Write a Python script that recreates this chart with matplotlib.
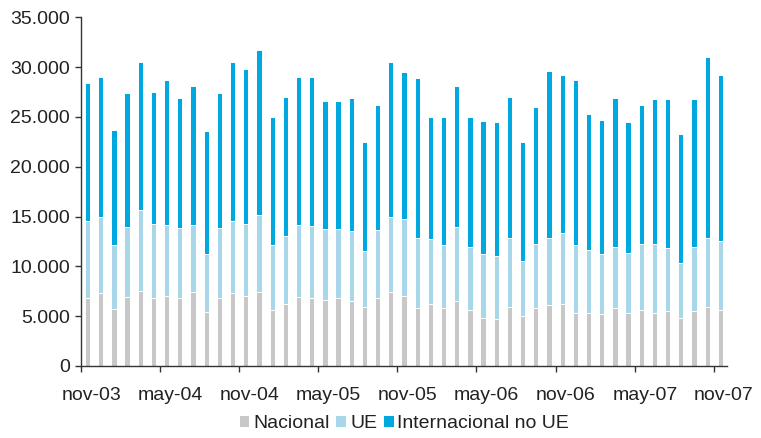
import numpy as np
import matplotlib.pyplot as plt
from matplotlib.ticker import FuncFormatter, FixedLocator

plt.rcParams['font.family'] = ['Liberation Sans', 'DejaVu Sans']

# monthly, nov-03 .. nov-07
tick_labels = ['nov-03', 'may-04', 'nov-04', 'may-05', 'nov-05',
               'may-06', 'nov-06', 'may-07', 'nov-07']

# nacional, top of UE segment, total
nacional = [6.87, 7.30, 5.76, 6.97, 7.57, 6.87, 7.00, 6.87, 7.47, 5.46,
            6.87, 7.33, 7.00, 7.47, 5.63, 6.26, 6.97, 6.87, 6.66, 6.87,
            6.56, 5.96, 6.87, 7.47, 7.00, 5.79, 6.26, 5.79, 6.56, 5.66,
            4.86, 4.76, 5.96, 5.06, 5.79, 6.10, 6.26, 5.36, 5.36, 5.19,
            5.79, 5.36, 5.66, 5.36, 5.49, 4.86, 5.49, 5.96, 5.66]
ue_top = [14.53, 15.00, 12.16, 13.97, 15.61, 14.23, 14.13, 13.83, 14.13, 11.22,
          13.83, 14.60, 14.23, 15.14, 12.16, 13.06, 14.20, 14.10, 13.80, 13.80,
          13.50, 11.55, 13.66, 15.00, 14.74, 12.89, 12.76, 12.12, 13.93, 11.99,
          11.22, 11.09, 12.89, 10.58, 12.29, 12.89, 13.36, 12.12, 11.69, 11.22,
          11.99, 11.39, 12.29, 12.29, 11.86, 10.35, 11.99, 12.89, 12.59]
total = [28.43, 29.00, 23.71, 27.36, 30.51, 27.50, 28.70, 26.89, 28.10, 23.58,
         27.36, 30.51, 29.77, 31.75, 24.95, 27.03, 29.00, 29.00, 26.62, 26.62,
         26.89, 22.50, 26.16, 30.51, 29.50, 28.87, 24.95, 24.95, 28.10, 24.95,
         24.60, 24.48, 27.03, 22.50, 25.99, 29.60, 29.17, 28.70, 25.25, 24.65,
         26.89, 24.48, 26.16, 26.76, 26.76, 23.28, 26.76, 30.98, 29.17]

nacional = np.array(nacional) * 1000
ue = np.array(ue_top) * 1000 - nacional
intl = np.array(total) * 1000 - np.array(ue_top) * 1000

x = np.arange(len(nacional))

fig = plt.figure(figsize=(7.61, 4.38), dpi=100)
ax = fig.add_axes([0.1064, 0.1644, 0.8489, 0.7961])

kw = dict(width=0.4, edgecolor='white', linewidth=0.7)
ax.bar(x, nacional, color='#c8c8c8', label='Nacional', **kw)
ax.bar(x, ue, bottom=nacional, color='#a8d7ea', label='UE', **kw)
ax.bar(x, intl, bottom=nacional + ue, color='#00a8e0',
       label='Internacional no UE', **kw)

ax.set_xlim(-0.5, len(x) - 0.5)
ax.set_ylim(0, 35000)
ax.set_yticks(np.arange(0, 35001, 5000))
ax.yaxis.set_major_formatter(FuncFormatter(lambda v, p: f'{v:,.0f}'.replace(',', '.')))

# ticks between categories, labels on the month
ax.xaxis.set_major_locator(FixedLocator(np.arange(-0.5, len(x), 6)))
ax.xaxis.set_major_formatter(FuncFormatter(lambda v, p: ''))
ax.xaxis.set_minor_locator(FixedLocator(np.arange(0, len(x), 6) + 0.27))
ax.set_xticklabels(tick_labels, minor=True)

for s in ['top', 'right']:
    ax.spines[s].set_visible(False)
for s in ['left', 'bottom']:
    ax.spines[s].set_color('#333333')
    ax.spines[s].set_linewidth(1.0)

ax.tick_params(axis='y', length=4, width=1, color='#333333', pad=4,
               labelsize=14, labelcolor='#222222')
ax.tick_params(axis='x', which='major', length=4, width=1, color='#333333')
ax.tick_params(axis='x', which='minor', length=0, pad=15,
               labelsize=14, labelcolor='#222222')

ax.legend(loc='center', bbox_to_anchor=(0.5, -0.165), ncol=3, frameon=False,
          fontsize=14, handlelength=0.55, handleheight=0.55,
          handletextpad=0.2, columnspacing=0.3, borderaxespad=0,
          labelcolor='#222222')

fig.savefig('out.png', dpi=100)
